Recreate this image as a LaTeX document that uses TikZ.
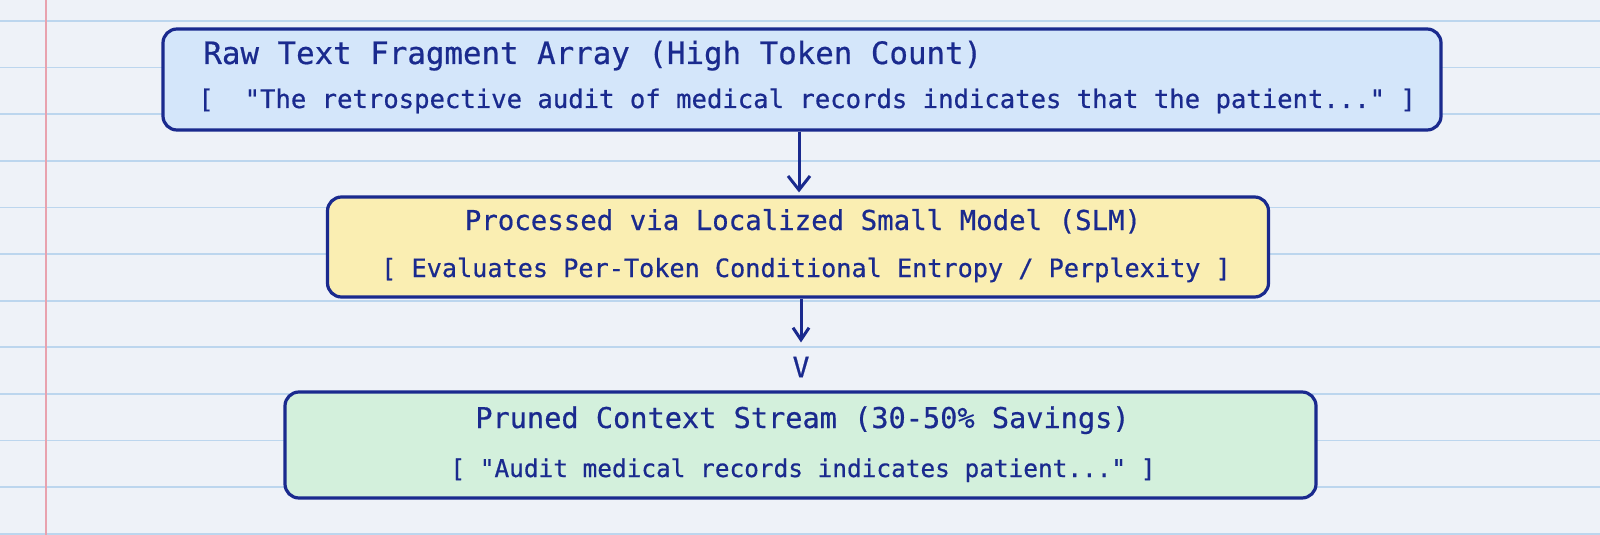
\documentclass[tikz,border=0pt]{standalone}
\usepackage{fontspec}
\setmonofont[FakeBold=0.6]{DejaVu Sans Mono}
\usetikzlibrary{arrows.meta}
\definecolor{ink}{HTML}{1A2A8E}
\definecolor{paper}{HTML}{EEF2F8}
\definecolor{ruleblue}{HTML}{BCD6EE}
\definecolor{marginred}{HTML}{E8A2AE}
\definecolor{rawfill}{HTML}{D4E6FA}
\definecolor{slmfill}{HTML}{FAEEB2}
\definecolor{prunefill}{HTML}{D3F0DC}

\begin{document}
\begin{tikzpicture}[x=0.5pt,y=-0.5pt,
  box/.style={draw=ink,line width=1.6pt,rounded corners=7pt,inner sep=0pt},
  txt/.style={text=ink,inner sep=0pt,anchor=base},
  flow/.style={draw=ink,line width=1.5pt,-{Straight Barb[length=7pt,width=11pt]}}]

\useasboundingbox (0,0) rectangle (1600,535);
\fill[paper] (0,0) rectangle (1600,535);
\foreach \k in {0,...,11}
  \draw[ruleblue,line width=0.9pt] (0,21+46.6*\k) -- (1600,21+46.6*\k);
\draw[marginred,line width=0.9pt] (46,0) -- (46,535);

\node[box,fill=rawfill,minimum width=639pt,minimum height=50.5pt] (raw) at (802,79.5) {};
\node[box,fill=slmfill,minimum width=470.5pt,minimum height=50pt] (slm) at (798,247) {};
\node[box,fill=prunefill,minimum width=515.5pt,minimum height=53pt] (pruned) at (800.5,445) {};

\node[txt,anchor=base west,font=\ttfamily\fontsize{15.4}{18}\selectfont] (rawttl) at (203,64) {Raw Text Fragment Array (High Token Count)};
\node[txt,anchor=base west,font=\ttfamily\fontsize{12.8}{15}\selectfont] (rawsub) at (198,108) {[\ \ "The retrospective audit of medical records indicates that the patient..." ]};

\node[txt,font=\ttfamily\fontsize{13.7}{16}\selectfont] (slmttl) at (803,230) {Processed via Localized Small Model (SLM)};
\node[txt,font=\ttfamily\fontsize{12.6}{15}\selectfont] (slmsub) at (806,277) {[ Evaluates Per-Token Conditional Entropy / Perplexity ]};

\node[txt,font=\ttfamily\fontsize{14.3}{17}\selectfont] (prunedttl) at (802.5,428) {Pruned Context Stream (30-50\% Savings)};
\node[txt,font=\ttfamily\fontsize{12.2}{15}\selectfont] (prunedsub) at (803,477) {[ "Audit medical records indicates patient..." ]};

\node[txt,anchor=center,font=\ttfamily\fontsize{14}{16}\selectfont] (vmark) at (801,367) {V};

\draw[flow,shorten >=1.5pt] ([xshift=-1.5pt]raw.south) -- ([xshift=0.5pt]slm.north);
\draw[flow,-{Straight Barb[length=6pt,width=8pt]},shorten >=7pt] ([xshift=1.5pt]slm.south) -- (vmark.north);

\end{tikzpicture}
\end{document}
